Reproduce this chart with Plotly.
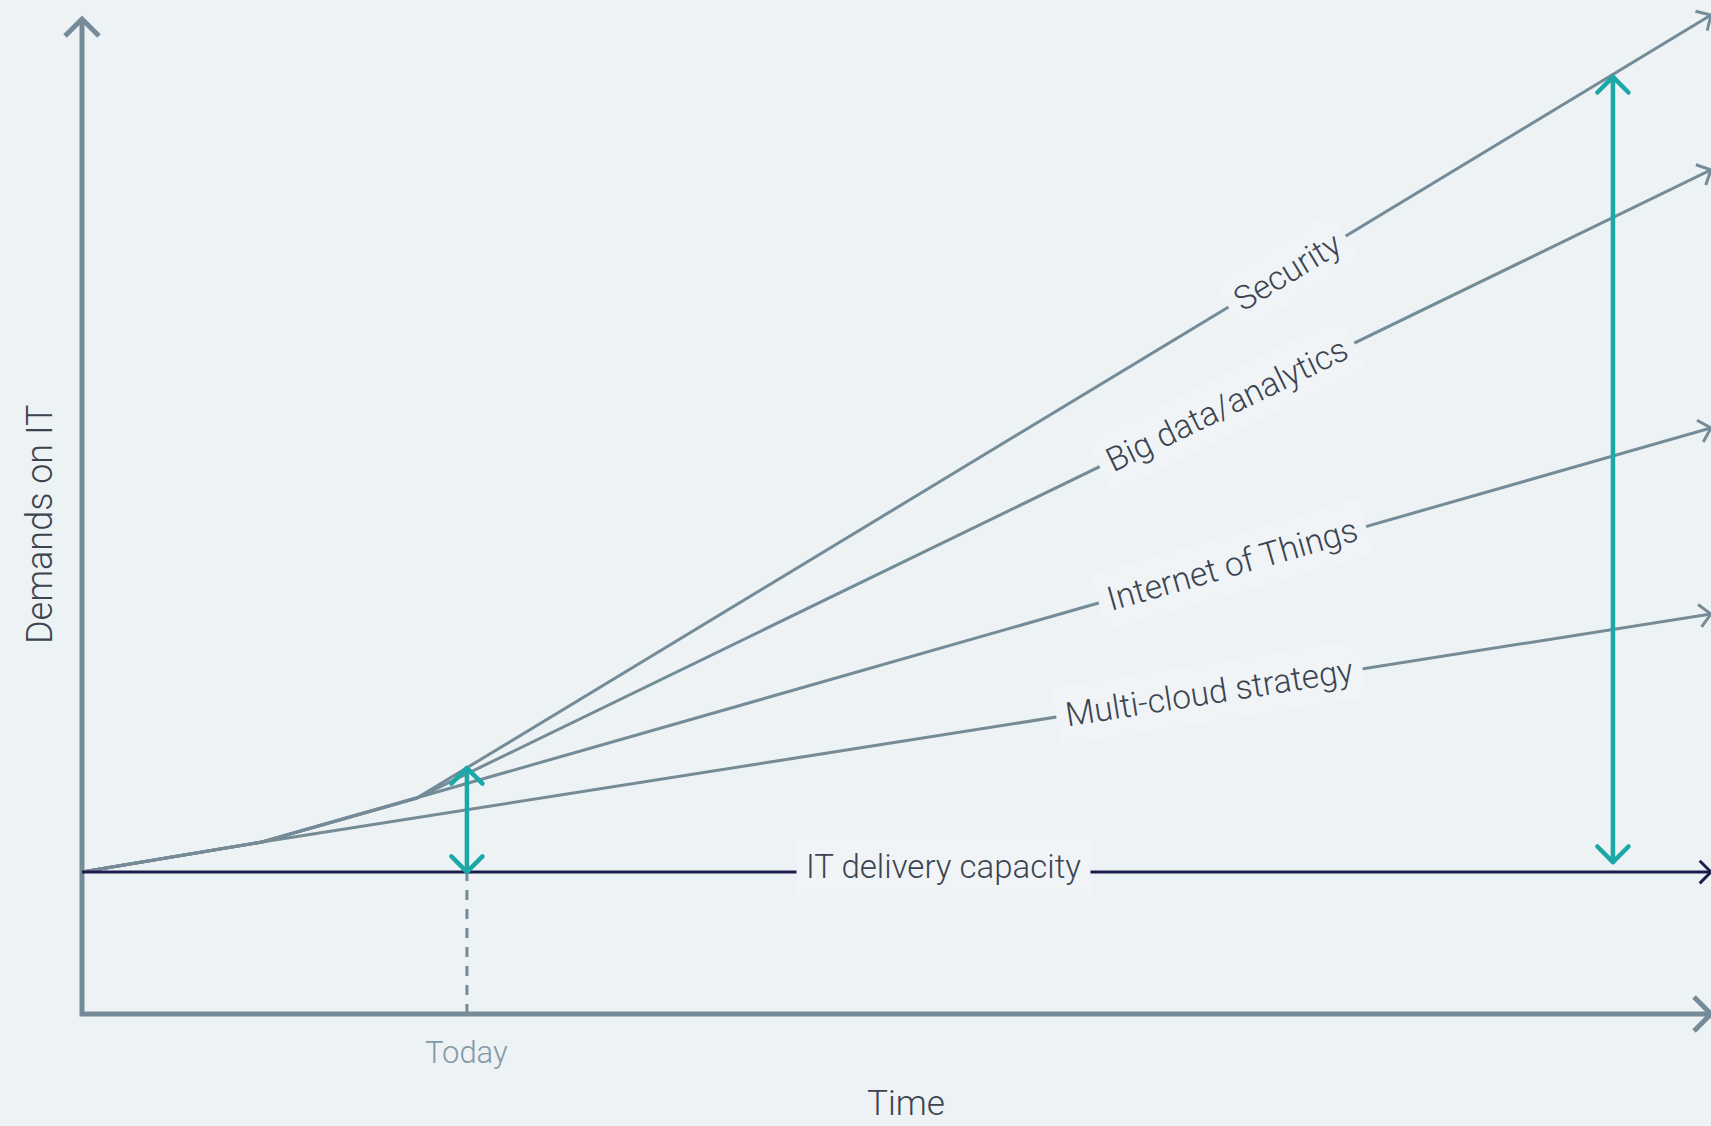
import math
import plotly.graph_objects as go

# ---------------------------------------------------------------------------
# Values: time runs from 0 to 100, demand is scaled so that the current
# IT delivery capacity sits at 10.
# ---------------------------------------------------------------------------
series_names = ["Security", "Big data/analytics", "Internet of Things", "Multi-cloud strategy"]

security_time = [0.0, 11.05, 20.56, 100.0]
security_demand = [10.0, 12.11, 15.21, 70.35]

bigdata_time = [0.0, 11.05, 20.56, 100.0]
bigdata_demand = [10.0, 12.11, 15.21, 59.44]

iot_time = [0.0, 11.05, 100.0]
iot_demand = [10.0, 12.11, 41.27]

multicloud_time = [0.0, 11.05, 100.0]
multicloud_demand = [10.0, 12.11, 28.17]

capacity_time = [0.0, 100.0]
capacity_level = [10.0, 10.0]

today = 23.63
gap_today = [10.0, 17.32]          # capacity -> demand, today
future = 93.98
gap_future = [10.70, 65.99]        # capacity -> demand, later on

axis_top = 70.07
axis_end = 100.0

label_time = [74.0, 70.3, 70.6, 69.2]
capacity_label = "IT delivery capacity"
capacity_label_time = 52.9

# ---------------------------------------------------------------------------
# Canvas / styling
# ---------------------------------------------------------------------------
W, H = 1711, 1126
X_RANGE = [-5.034, 100.0]
Y_RANGE = [-7.887, 71.408]
SX = W / (X_RANGE[1] - X_RANGE[0])
SY = H / (Y_RANGE[1] - Y_RANGE[0])

BG = "#edf2f5"
LABEL_BG = "#f0f4f7"
GREY = "#758b97"
NAVY = "#1b1c4d"
TEAL = "#1ba8a6"
TEXT = "#3b4450"
TEXT_LIGHT = "#8399a5"
FONT = "Roboto"


def to_px(x, y):
    return (x - X_RANGE[0]) * SX, (Y_RANGE[1] - y) * SY


def to_data(px, py):
    return px / SX + X_RANGE[0], Y_RANGE[1] - py / SY


def chevron(tip, prev, arm):
    """Open arrow head (two 45 degree arms) at `tip`, pointing away from `prev`."""
    tx, ty = to_px(*tip)
    qx, qy = to_px(*prev)
    dx, dy = qx - tx, qy - ty
    n = math.hypot(dx, dy)
    dx, dy = dx / n, dy / n
    c = s = math.sqrt(0.5)
    a1 = (dx * c - dy * s, dx * s + dy * c)
    a2 = (dx * c + dy * s, -dx * s + dy * c)
    pts = [(tx + a1[0] * arm, ty + a1[1] * arm), (tx, ty), (tx + a2[0] * arm, ty + a2[1] * arm)]
    xs, ys = zip(*(to_data(px, py) for px, py in pts))
    return list(xs), list(ys)


def line_angle(xs, ys, at):
    """On-screen angle (degrees) of the polyline segment containing `at`."""
    for i in range(len(xs) - 1):
        if xs[i] <= at <= xs[i + 1]:
            x0, y0 = to_px(xs[i], ys[i])
            x1, y1 = to_px(xs[i + 1], ys[i + 1])
            return math.degrees(math.atan2(-(y1 - y0), x1 - x0))
    return 0.0


def interp(xs, ys, at):
    for i in range(len(xs) - 1):
        if xs[i] <= at <= xs[i + 1]:
            t = (at - xs[i]) / (xs[i + 1] - xs[i])
            return ys[i] + t * (ys[i + 1] - ys[i])
    return ys[-1]


fig = go.Figure()


def add_path(xs, ys, color, width, dash=None):
    fig.add_trace(go.Scatter(
        x=xs, y=ys, mode="lines",
        line=dict(color=color, width=width, dash=dash),
        hoverinfo="skip", showlegend=False,
    ))


# Axes with arrow heads
add_path([0, 0, axis_end], [axis_top, 0, 0], GREY, 5)
hx, hy = chevron((0, axis_top), (0, 0), 24)
add_path(hx, hy, GREY, 5)
hx, hy = chevron((axis_end, 0), (0, 0), 24)
add_path(hx, hy, GREY, 5)

# Demand curves
curves = [
    (security_time, security_demand),
    (bigdata_time, bigdata_demand),
    (iot_time, iot_demand),
    (multicloud_time, multicloud_demand),
]
for xs, ys in curves:
    add_path(xs, ys, GREY, 3)
    hx, hy = chevron((xs[-1], ys[-1]), (xs[-2], ys[-2]), 16)
    add_path(hx, hy, GREY, 3)

# Capacity line
add_path(capacity_time, capacity_level, NAVY, 3)
hx, hy = chevron((capacity_time[-1], capacity_level[-1]), (capacity_time[0], capacity_level[0]), 16)
add_path(hx, hy, NAVY, 3)

# "Today" marker
add_path([today, today], [0, capacity_level[0]], GREY, 3, dash="10px,9px")

# Gap arrows (capacity vs. demand)
for gx, (lo, hi) in [(today, gap_today), (future, gap_future)]:
    add_path([gx, gx], [lo, hi], TEAL, 4.5)
    hx, hy = chevron((gx, hi), (gx, lo), 22)
    add_path(hx, hy, TEAL, 4.5)
    hx, hy = chevron((gx, lo), (gx, hi), 22)
    add_path(hx, hy, TEAL, 4.5)

annotations = []
for name, (xs, ys), lt in zip(series_names, curves, label_time):
    annotations.append(dict(
        x=lt, y=interp(xs, ys, lt), xref="x", yref="y",
        text=name, showarrow=False,
        textangle=-line_angle(xs, ys, lt),
        font=dict(family=FONT, size=33.5, color=TEXT, weight=300),
        bgcolor=LABEL_BG, borderpad=9,
    ))

annotations.append(dict(
    x=capacity_label_time, y=capacity_level[0], xref="x", yref="y",
    text=capacity_label, showarrow=False, yshift=6,
    font=dict(family=FONT, size=33, color=TEXT, weight=300),
    bgcolor=LABEL_BG, borderpad=9,
))

annotations.append(dict(
    x=today, y=-2.71, xref="x", yref="y", text="Today", showarrow=False,
    font=dict(family=FONT, size=31, color=TEXT_LIGHT, weight=300),
))
annotations.append(dict(
    x=50.58, y=-6.62, xref="x", yref="y", text="Time", showarrow=False,
    yshift=5,
    font=dict(family=FONT, size=35, color=TEXT, weight=300),
))
annotations.append(dict(
    x=-2.58, y=34.5, xref="x", yref="y", text="Demands on IT", showarrow=False,
    textangle=-90,
    font=dict(family=FONT, size=36, color=TEXT, weight=300),
))

fig.update_layout(
    width=W, height=H, autosize=False,
    margin=dict(l=0, r=0, t=0, b=0, pad=0),
    paper_bgcolor=BG, plot_bgcolor=BG,
    showlegend=False, hovermode=False,
    annotations=annotations,
    xaxis=dict(range=X_RANGE, visible=False, fixedrange=True),
    yaxis=dict(range=Y_RANGE, visible=False, fixedrange=True),
)

# Rounded ends for the teal gap arrows
round_caps = """
function roundTeal() {
  document.querySelectorAll('.scatterlayer path.js-line').forEach(function (p) {
    if ((p.style.stroke || '').replace(/\\s/g, '') === 'rgb(27,168,166)') {
      p.style.strokeLinecap = 'round';
      p.style.strokeLinejoin = 'round';
    }
  });
}
roundTeal();
setTimeout(roundTeal, 50);
setTimeout(roundTeal, 300);
"""

fig.write_html("out.html", post_script=round_caps, config={"displayModeBar": False})
